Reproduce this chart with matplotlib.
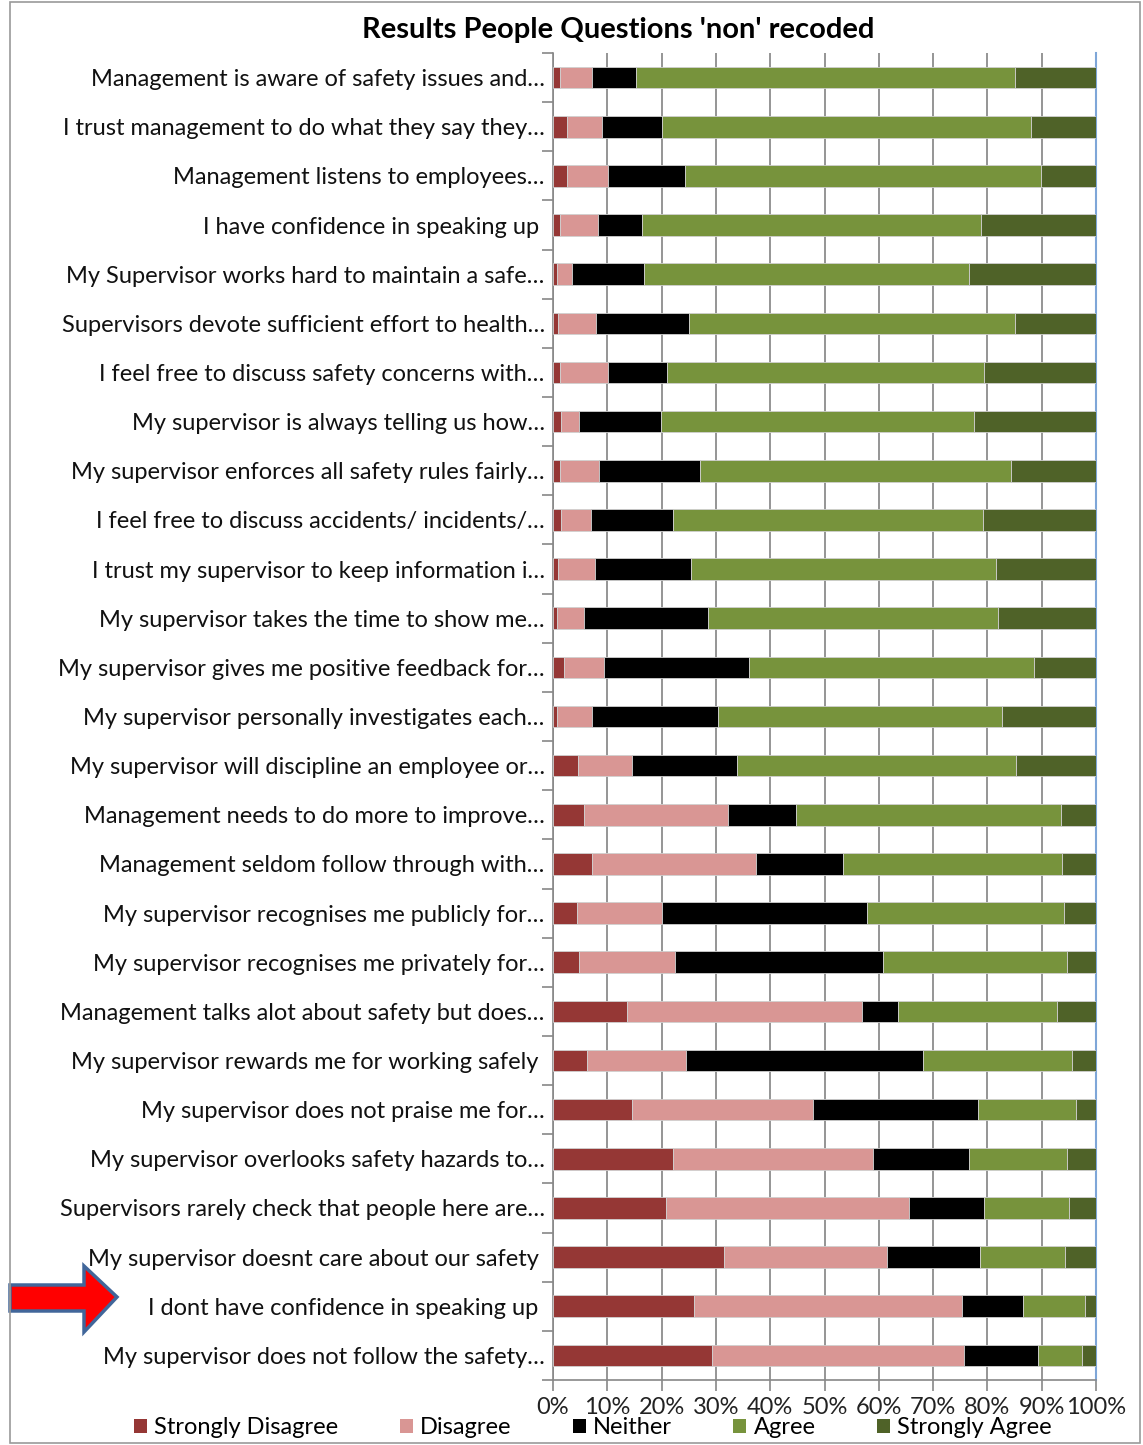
import numpy as np
import matplotlib
matplotlib.use("Agg")
import matplotlib.pyplot as plt
from matplotlib.patches import Polygon, Rectangle, Patch

plt.rcParams['font.family'] = ['Lato', 'DejaVu Sans']

# 问题标签（从上到下）
questions = [
    "Management is aware of safety issues and…",
    "I trust management to do what they say they…",
    "Management listens to employees…",
    "I have confidence in speaking up ",
    "My Supervisor works hard to maintain a safe…",
    "Supervisors devote sufficient effort to health…",
    "I feel free to discuss safety concerns with…",
    "My supervisor is always telling us how…",
    "My supervisor enforces all safety rules fairly…",
    "I feel free to discuss accidents/ incidents/…",
    "I trust my supervisor to keep information i…",
    "My supervisor takes the time to show me…",
    "My supervisor gives me positive feedback for…",
    "My supervisor personally investigates each…",
    "My supervisor will discipline an employee or…",
    "Management needs to do more to improve…",
    "Management seldom follow through with…",
    "My supervisor recognises me publicly for…",
    "My supervisor recognises me privately for…",
    "Management talks alot about safety but does…",
    "My supervisor rewards me for working safely ",
    "My supervisor does not praise me for…",
    "My supervisor overlooks safety hazards to…",
    "Supervisors rarely check that people here are…",
    "My supervisor doesnt care about our safety ",
    "I dont have confidence in speaking up ",
    "My supervisor does not follow the safety…",
]

# 各回答比例（%）
strongly_disagree = [1.3, 2.5, 2.5, 1.3, 0.8, 0.9, 1.3, 1.5, 1.3, 1.5, 1.0, 0.8, 2.0, 0.8,
                     4.6, 5.8, 7.2, 4.4, 4.8, 13.6, 6.3, 14.5, 22.1, 20.8, 31.5, 25.9, 29.2]
disagree = [5.9, 6.6, 7.6, 6.9, 2.7, 7.0, 8.8, 3.3, 7.1, 5.5, 6.7, 5.0, 7.4, 6.4,
            9.9, 26.5, 30.1, 15.7, 17.6, 43.3, 18.2, 33.4, 36.9, 44.7, 30.1, 49.5, 46.4]
neither = [8.1, 11.0, 14.2, 8.2, 13.2, 17.1, 10.9, 15.0, 18.7, 15.1, 17.8, 22.7, 26.7, 23.2,
           19.4, 12.5, 16.1, 37.8, 38.3, 6.7, 43.6, 30.3, 17.6, 13.9, 17.1, 11.1, 13.7]
agree = [69.8, 68.0, 65.5, 62.5, 60.0, 60.1, 58.4, 57.7, 57.3, 57.1, 56.0, 53.5, 52.4, 52.3,
         51.4, 48.8, 40.4, 36.2, 34.0, 29.3, 27.4, 18.2, 18.1, 15.6, 15.6, 11.4, 8.1]
strongly_agree = [14.9, 11.9, 10.2, 21.1, 23.3, 14.9, 20.6, 22.5, 15.6, 20.8, 18.5, 18.0, 11.5, 17.3,
                  14.7, 6.4, 6.2, 5.9, 5.3, 7.1, 4.5, 3.6, 5.3, 5.0, 5.7, 2.1, 2.6]

series_names = ["Strongly Disagree", "Disagree", "Neither", "Agree", "Strongly Agree"]
colors = ["#953735", "#d99694", "#000000", "#77933c", "#4f6228"]
x_ticks = np.arange(0, 101, 10)
x_tick_labels = [f"{v}%" for v in x_ticks]

W, H = 1143, 1445
FS = 17


def px(x, y):
    # 像素坐标转换为图形坐标
    return (x / W, 1 - y / H)


fig = plt.figure(figsize=(W / 100, H / 100), dpi=100)
ax = fig.add_axes([553 / W, 1 - 1380 / H, (1096 - 553) / W, (1380 - 53) / H])

data = np.array([strongly_disagree, disagree, neither, agree, strongly_agree])
# 归一化为100%
data = data / data.sum(axis=0) * 100
y = np.arange(len(questions))
left = np.zeros(len(questions))
for vals, name, c in zip(data, series_names, colors):
    ax.barh(y, vals, left=left, height=0.44, color=c, label=name,
            edgecolor="#d0d0d0", linewidth=0.6, zorder=3)
    left += vals

ax.set_xlim(0, 100)
ax.set_ylim(len(questions) - 0.5, -0.5)
ax.set_xticks(x_ticks)
ax.set_xticklabels(x_tick_labels, fontsize=FS, color="#222222")
ax.set_yticks(y)
ax.set_yticklabels(questions, fontsize=FS, color="#111111")
ax.set_yticks(np.arange(len(questions) + 1) - 0.5, minor=True)
ax.tick_params(axis="y", which="major", length=0, pad=6)
ax.tick_params(axis="y", which="minor", length=8, color="#888888", width=1.2)
ax.tick_params(axis="x", length=8, color="#888888", width=1.2, pad=4)
ax.grid(axis="x", color="#8c8c8c", linewidth=1.3, zorder=0)
for s in ["left", "bottom"]:
    ax.spines[s].set_color("#888888")
    ax.spines[s].set_linewidth(1.2)
ax.spines["top"].set_visible(False)
ax.spines["right"].set_color("#7ea6d8")
ax.spines["right"].set_linewidth(1.5)

fig.text(618 / W, 1 - 30 / H, "Results People Questions 'non' recoded",
         ha="center", va="center", fontsize=21, fontweight="bold")

handles = [Patch(facecolor=c, label=n) for c, n in zip(colors, series_names)]
fig.legend(handles=handles, loc="center", bbox_to_anchor=px(593, 1428), ncol=5,
           frameon=False, fontsize=FS, handlelength=0.55, handleheight=0.55,
           handletextpad=0.3, columnspacing=2.6, borderpad=0)

# 红色箭头
arrow = [px(10, 1285), px(84, 1285), px(84, 1266), px(117, 1297),
         px(84, 1332), px(84, 1311), px(10, 1311)]
fig.patches.append(Polygon(arrow, closed=True, transform=fig.transFigure,
                           facecolor="#ff0000", edgecolor="#41669a", linewidth=2.5,
                           joinstyle="miter"))

# 外框
fig.patches.append(Rectangle(px(10, 1443), (1140 - 10) / W, (1443 - 2) / H,
                             transform=fig.transFigure, fill=False,
                             edgecolor="#9a9a9a", linewidth=1.2))

fig.savefig("out.png", dpi=100)
